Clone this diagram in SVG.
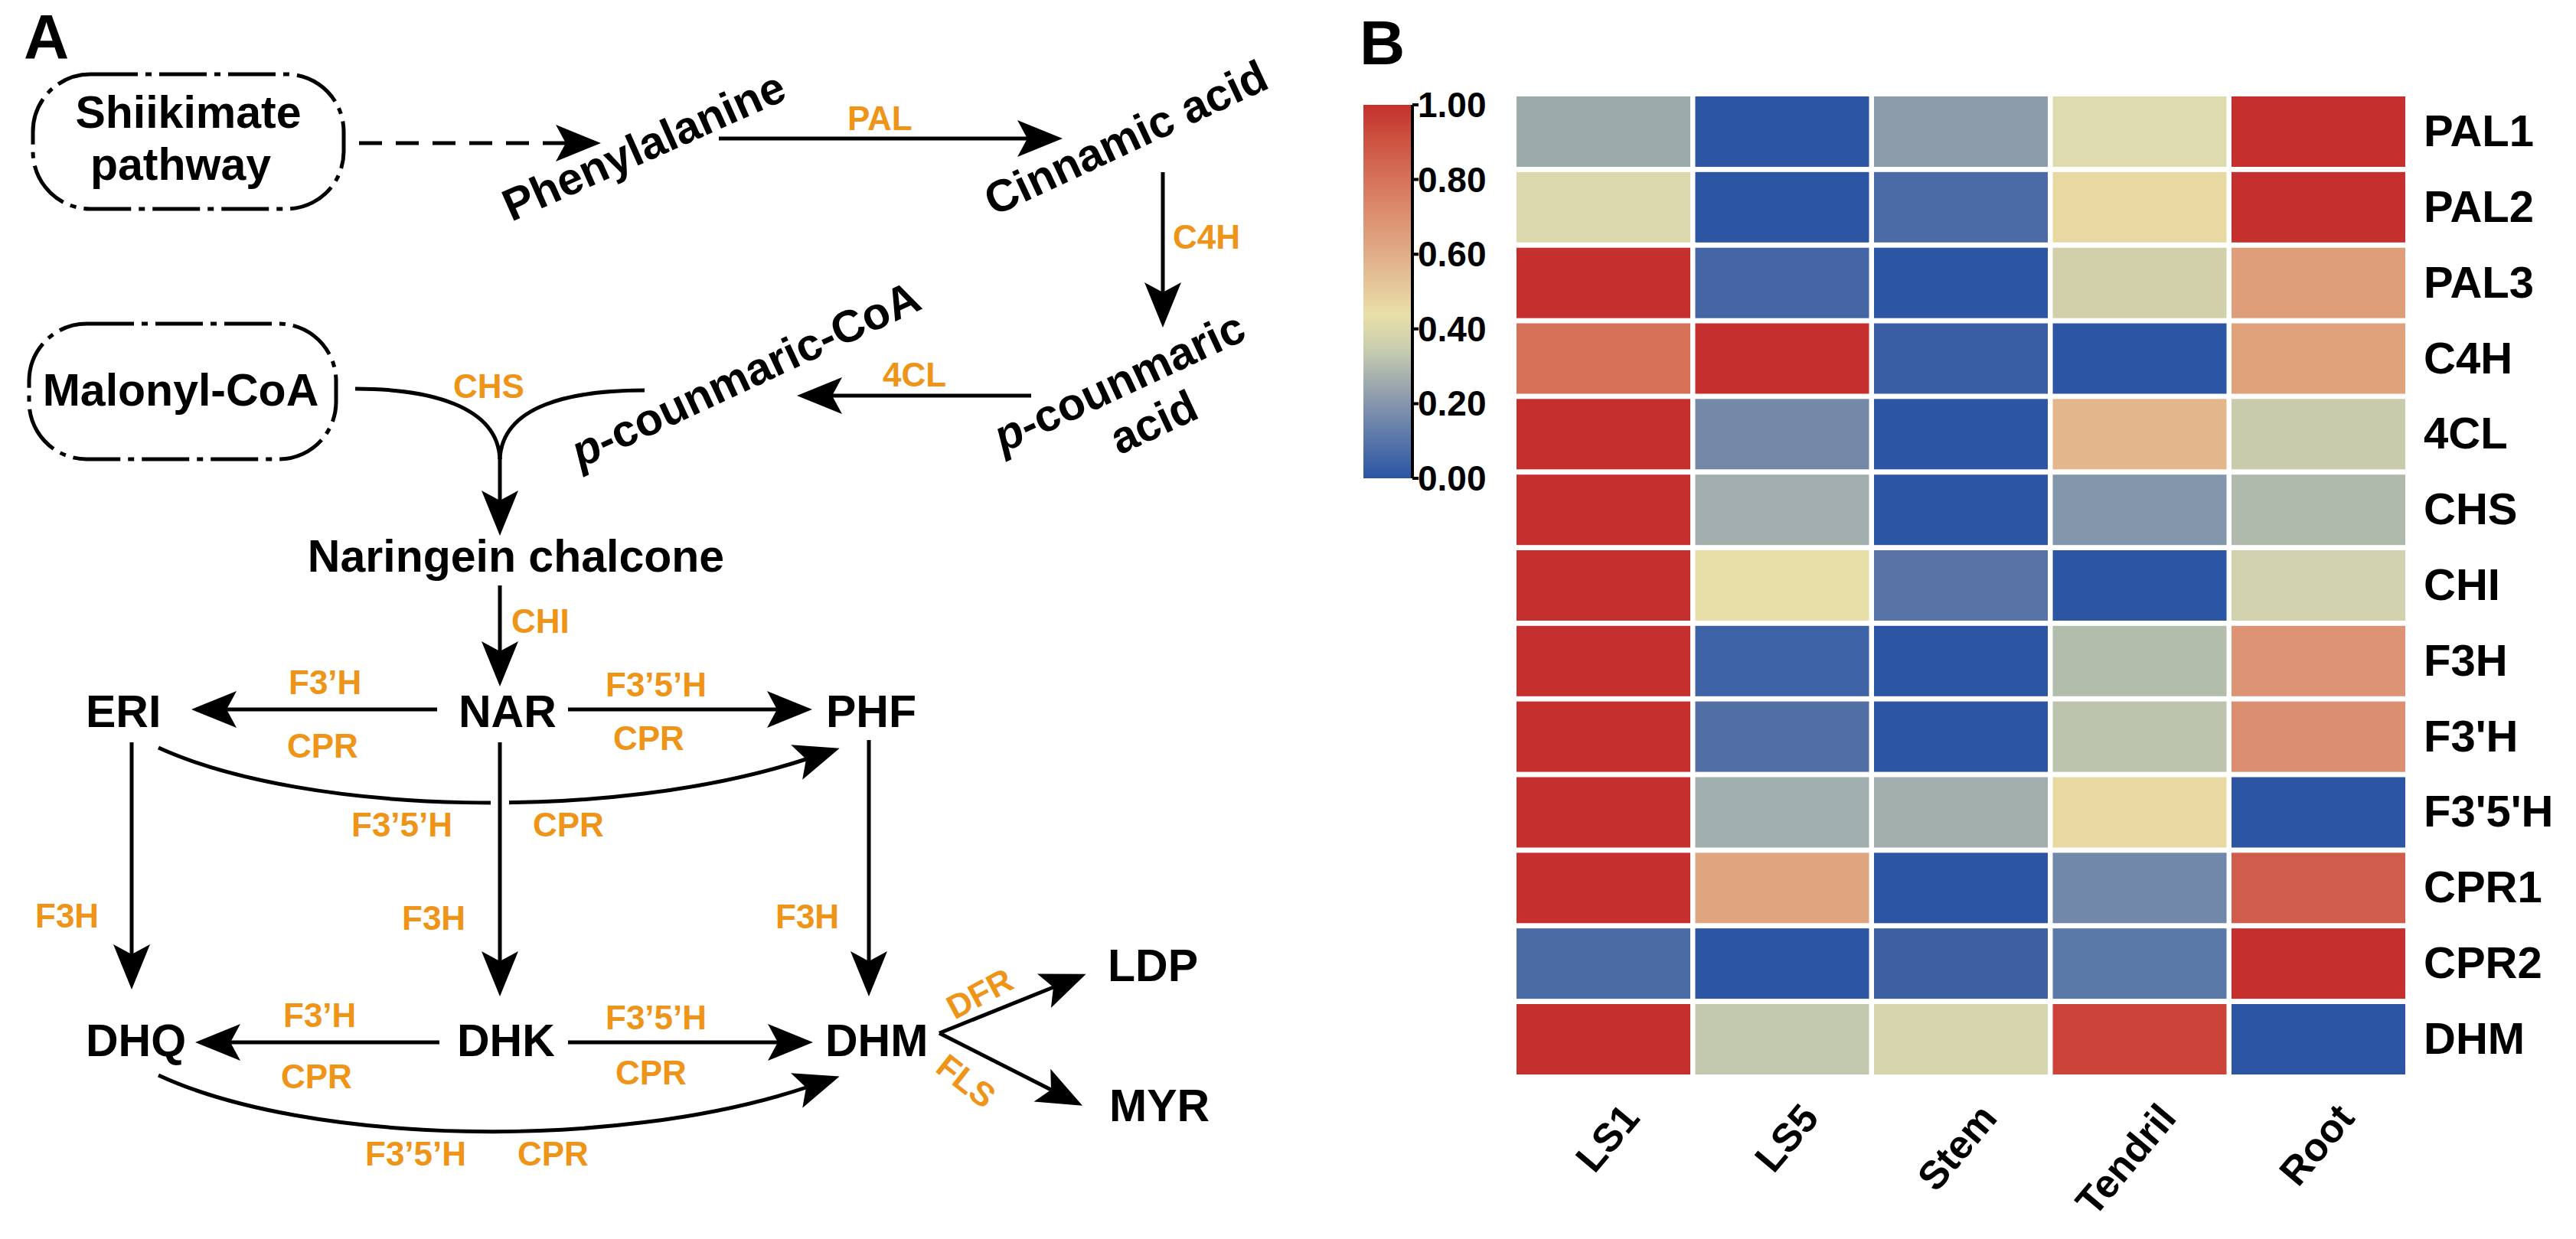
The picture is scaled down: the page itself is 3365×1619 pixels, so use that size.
<svg xmlns="http://www.w3.org/2000/svg" width="3365" height="1619" viewBox="0 0 3365 1619">
<style>
.lb{font-family:"Liberation Sans",Arial,sans-serif;font-weight:bold;font-size:59px;fill:#000}
.en{font-family:"Liberation Sans",Arial,sans-serif;font-weight:bold;font-size:44px;fill:#EE9418}
.pl{font-family:"Liberation Sans",Arial,sans-serif;font-weight:bold;font-size:82px;fill:#000}
.rl{font-family:"Liberation Sans",Arial,sans-serif;font-weight:bold;font-size:58px;fill:#000}
.cb{font-family:"Liberation Sans",Arial,sans-serif;font-weight:bold;font-size:46px;fill:#000}
.cl{font-family:"Liberation Sans",Arial,sans-serif;font-weight:bold;font-size:52px;fill:#000}
.ln{fill:none;stroke:#000;stroke-width:5}
.ar{marker-end:url(#ah)}
.box{fill:none;stroke:#000;stroke-width:5;stroke-dasharray:62 10 8 10}
</style>
<defs>
<marker id="ah" markerUnits="userSpaceOnUse" markerWidth="70" markerHeight="50" viewBox="0 0 70 50" refX="14" refY="25" orient="auto">
<path d="M60,25 L1,1 L14,25 L1,49 Z" fill="#000"/>
</marker>
<linearGradient id="cbar" x1="0" y1="0" x2="0" y2="1">
<stop offset="0" stop-color="#C4302C"/>
<stop offset="0.1" stop-color="#CD5542"/>
<stop offset="0.2" stop-color="#D6735A"/>
<stop offset="0.3" stop-color="#DC9171"/>
<stop offset="0.4" stop-color="#E0AD87"/>
<stop offset="0.5" stop-color="#E6CC9D"/>
<stop offset="0.56" stop-color="#E9E0A8"/>
<stop offset="0.66" stop-color="#C6CBAF"/>
<stop offset="0.8" stop-color="#8595AD"/>
<stop offset="1" stop-color="#2A55A4"/>
</linearGradient>
</defs>
<rect x="0" y="0" width="3365" height="1619" fill="#fff"/>

<text class="pl" x="31" y="76">A</text>
<text class="pl" x="1776" y="84">B</text>

<!-- Panel A nodes -->
<g id="node-shikimate">
<rect class="box" x="43" y="97" width="406" height="176" rx="75" ry="75"/>
<text class="lb" x="246" y="167" text-anchor="middle">Shiikimate</text>
<text class="lb" x="236" y="235" text-anchor="middle">pathway</text>
</g>
<g id="node-malonyl">
<rect class="box" x="38" y="423" width="401" height="177" rx="75" ry="75"/>
<text class="lb" x="236" y="530" text-anchor="middle">Malonyl-CoA</text>
</g>
<g id="node-phenylalanine"><text class="lb" transform="translate(668,290) rotate(-24)">Phenylalanine</text></g>
<g id="node-cinnamic"><text class="lb" transform="translate(1298,283) rotate(-25)">Cinnamic acid</text></g>
<g id="node-pcoumaric-acid">
<text class="lb" transform="translate(1310,592) rotate(-25)"><tspan font-style="italic">p</tspan>-counmaric</text>
<text class="lb" transform="translate(1462,595) rotate(-25)">acid</text>
</g>
<g id="node-pcoumaric-coa"><text class="lb" transform="translate(758,612) rotate(-25)"><tspan font-style="italic">p</tspan>-counmaric-CoA</text></g>
<g id="node-naringenin-chalcone"><text class="lb" x="674" y="747" text-anchor="middle">Naringein chalcone</text></g>
<g id="node-eri"><text class="lb" x="112" y="950">ERI</text></g>
<g id="node-nar"><text class="lb" x="599" y="950">NAR</text></g>
<g id="node-phf"><text class="lb" x="1079" y="950">PHF</text></g>
<g id="node-dhq"><text class="lb" x="112" y="1380">DHQ</text></g>
<g id="node-dhk"><text class="lb" x="597" y="1380">DHK</text></g>
<g id="node-dhm"><text class="lb" x="1078" y="1380">DHM</text></g>
<g id="node-ldp"><text class="lb" x="1447" y="1282">LDP</text></g>
<g id="node-myr"><text class="lb" x="1449" y="1465">MYR</text></g>

<!-- Panel A connectors -->
<g id="connectors">
<line class="ln ar" x1="469" y1="187" x2="739" y2="187" stroke-dasharray="30 18"/>
<line class="ln ar" x1="939" y1="181" x2="1342" y2="181"/>
<line class="ln ar" x1="1519" y1="225" x2="1519" y2="382"/>
<line class="ln ar" x1="1347" y1="517" x2="1087" y2="517"/>
<path class="ln" d="M464,508 C560,508 650,530 653,600"/>
<path class="ln" d="M842,510 C745,510 656,530 653,600"/>
<line class="ln ar" x1="653" y1="598" x2="653" y2="654"/>
<line class="ln ar" x1="653" y1="765" x2="653" y2="851"/>
<line class="ln ar" x1="571" y1="927" x2="296" y2="927"/>
<line class="ln ar" x1="742" y1="927" x2="1015" y2="927"/>
<path class="ln ar" d="M207,977 C400,1065 800,1075 1053,992"/>
<rect x="641" y="1030" width="24" height="40" fill="#fff"/>
<line class="ln ar" x1="172" y1="970" x2="172" y2="1247"/>
<line class="ln ar" x1="653" y1="970" x2="653" y2="1256"/>
<line class="ln ar" x1="1135" y1="967" x2="1135" y2="1256"/>
<line class="ln ar" x1="574" y1="1362" x2="301" y2="1362"/>
<line class="ln ar" x1="742" y1="1362" x2="1016" y2="1362"/>
<path class="ln ar" d="M207,1405 C400,1495 800,1505 1053,1421"/>
<line class="ln ar" x1="1227" y1="1350" x2="1376" y2="1290"/>
<line class="ln ar" x1="1227" y1="1350" x2="1373" y2="1424"/>
</g>

<!-- Enzyme labels -->
<g id="enzyme-labels">
<text class="en" x="1107" y="170">PAL</text>
<text class="en" x="1532" y="325">C4H</text>
<text class="en" x="1153" y="505">4CL</text>
<text class="en" x="592" y="520">CHS</text>
<text class="en" x="668" y="827">CHI</text>
<text class="en" x="377" y="907">F3’H</text>
<text class="en" x="375" y="990">CPR</text>
<text class="en" x="791" y="910">F3’5’H</text>
<text class="en" x="801" y="980">CPR</text>
<text class="en" x="459" y="1093">F3’5’H</text>
<text class="en" x="696" y="1093">CPR</text>
<text class="en" x="46" y="1212">F3H</text>
<text class="en" x="525" y="1215">F3H</text>
<text class="en" x="1013" y="1213">F3H</text>
<text class="en" x="370" y="1342">F3’H</text>
<text class="en" x="367" y="1422">CPR</text>
<text class="en" x="791" y="1345">F3’5’H</text>
<text class="en" x="804" y="1417">CPR</text>
<text class="en" x="477" y="1523">F3’5’H</text>
<text class="en" x="676" y="1523">CPR</text>
<text class="en" transform="translate(1247,1333) rotate(-28)">DFR</text>
<text class="en" transform="translate(1220,1399) rotate(38)">FLS</text>
</g>

<!-- Panel B: colour bar -->
<g id="colorbar">
<rect x="1781" y="137" width="62" height="488" fill="url(#cbar)"/>
<path d="M1845,137 V625 M1845,137 H1853 M1845,234.6 H1853 M1845,332.2 H1853 M1845,429.8 H1853 M1845,527.4 H1853 M1845,625 H1853" fill="none" stroke="#000" stroke-width="4"/>
<text class="cb" x="1852" y="153">1.00</text>
<text class="cb" x="1852" y="251">0.80</text>
<text class="cb" x="1852" y="348">0.60</text>
<text class="cb" x="1852" y="446">0.40</text>
<text class="cb" x="1852" y="543">0.20</text>
<text class="cb" x="1852" y="641">0.00</text>
</g>

<!-- Panel B: heatmap -->
<g id="heatmap">
<g id="row-PAL1">
<rect x="1981" y="126" width="227" height="92" fill="#9BABAA"/><rect x="2214.5" y="126" width="227" height="92" fill="#2C55A4"/><rect x="2448" y="126" width="227" height="92" fill="#8D9CAA"/><rect x="2681.5" y="126" width="227" height="92" fill="#DEDBAE"/><rect x="2915" y="126" width="227" height="92" fill="#C52F2E"/>
<text class="rl" x="3166" y="191">PAL1</text></g>
<g id="row-PAL2">
<rect x="1981" y="224.8" width="227" height="92" fill="#DCD9AE"/><rect x="2214.5" y="224.8" width="227" height="92" fill="#2C55A4"/><rect x="2448" y="224.8" width="227" height="92" fill="#4A6BA6"/><rect x="2681.5" y="224.8" width="227" height="92" fill="#E8D9A3"/><rect x="2915" y="224.8" width="227" height="92" fill="#C52F2E"/>
<text class="rl" x="3166" y="290">PAL2</text></g>
<g id="row-PAL3">
<rect x="1981" y="323.7" width="227" height="92" fill="#C52F2E"/><rect x="2214.5" y="323.7" width="227" height="92" fill="#4565A4"/><rect x="2448" y="323.7" width="227" height="92" fill="#2C55A4"/><rect x="2681.5" y="323.7" width="227" height="92" fill="#D1D0AB"/><rect x="2915" y="323.7" width="227" height="92" fill="#DE9E7A"/>
<text class="rl" x="3166" y="389">PAL3</text></g>
<g id="row-C4H">
<rect x="1981" y="422.5" width="227" height="92" fill="#D47157"/><rect x="2214.5" y="422.5" width="227" height="92" fill="#C52F2E"/><rect x="2448" y="422.5" width="227" height="92" fill="#3A5EA4"/><rect x="2681.5" y="422.5" width="227" height="92" fill="#2C55A4"/><rect x="2915" y="422.5" width="227" height="92" fill="#DFA27B"/>
<text class="rl" x="3166" y="488">C4H</text></g>
<g id="row-4CL">
<rect x="1981" y="521.3" width="227" height="92" fill="#C52F2E"/><rect x="2214.5" y="521.3" width="227" height="92" fill="#7489A7"/><rect x="2448" y="521.3" width="227" height="92" fill="#2C55A4"/><rect x="2681.5" y="521.3" width="227" height="92" fill="#E3B78B"/><rect x="2915" y="521.3" width="227" height="92" fill="#C9CBAD"/>
<text class="rl" x="3166" y="586">4CL</text></g>
<g id="row-CHS">
<rect x="1981" y="620.2" width="227" height="92" fill="#C52F2E"/><rect x="2214.5" y="620.2" width="227" height="92" fill="#A2AEAD"/><rect x="2448" y="620.2" width="227" height="92" fill="#2C55A4"/><rect x="2681.5" y="620.2" width="227" height="92" fill="#8396AB"/><rect x="2915" y="620.2" width="227" height="92" fill="#B0BAAC"/>
<text class="rl" x="3166" y="685">CHS</text></g>
<g id="row-CHI">
<rect x="1981" y="719" width="227" height="92" fill="#C52F2E"/><rect x="2214.5" y="719" width="227" height="92" fill="#E8DEA8"/><rect x="2448" y="719" width="227" height="92" fill="#5873A5"/><rect x="2681.5" y="719" width="227" height="92" fill="#2C55A4"/><rect x="2915" y="719" width="227" height="92" fill="#D1D2AD"/>
<text class="rl" x="3166" y="784">CHI</text></g>
<g id="row-F3H">
<rect x="1981" y="817.8" width="227" height="92" fill="#C52F2E"/><rect x="2214.5" y="817.8" width="227" height="92" fill="#3D62A5"/><rect x="2448" y="817.8" width="227" height="92" fill="#2C55A4"/><rect x="2681.5" y="817.8" width="227" height="92" fill="#B2BDAB"/><rect x="2915" y="817.8" width="227" height="92" fill="#DC9475"/>
<text class="rl" x="3166" y="883">F3H</text></g>
<g id="row-F3pH">
<rect x="1981" y="916.6" width="227" height="92" fill="#C52F2E"/><rect x="2214.5" y="916.6" width="227" height="92" fill="#526FA5"/><rect x="2448" y="916.6" width="227" height="92" fill="#2C55A4"/><rect x="2681.5" y="916.6" width="227" height="92" fill="#BDC4AD"/><rect x="2915" y="916.6" width="227" height="92" fill="#DC8E70"/>
<text class="rl" x="3166" y="982">F3'H</text></g>
<g id="row-F3p5pH">
<rect x="1981" y="1015.5" width="227" height="92" fill="#C52F2E"/><rect x="2214.5" y="1015.5" width="227" height="92" fill="#A0AEAD"/><rect x="2448" y="1015.5" width="227" height="92" fill="#A1AEAB"/><rect x="2681.5" y="1015.5" width="227" height="92" fill="#E8D9A2"/><rect x="2915" y="1015.5" width="227" height="92" fill="#2C55A4"/>
<text class="rl" x="3166" y="1080">F3'5'H</text></g>
<g id="row-CPR1">
<rect x="1981" y="1114.3" width="227" height="92" fill="#C52F2E"/><rect x="2214.5" y="1114.3" width="227" height="92" fill="#DFA57E"/><rect x="2448" y="1114.3" width="227" height="92" fill="#2C55A4"/><rect x="2681.5" y="1114.3" width="227" height="92" fill="#7188AB"/><rect x="2915" y="1114.3" width="227" height="92" fill="#D05C4C"/>
<text class="rl" x="3166" y="1179">CPR1</text></g>
<g id="row-CPR2">
<rect x="1981" y="1213.1" width="227" height="92" fill="#4B6BA4"/><rect x="2214.5" y="1213.1" width="227" height="92" fill="#2C55A4"/><rect x="2448" y="1213.1" width="227" height="92" fill="#3D60A3"/><rect x="2681.5" y="1213.1" width="227" height="92" fill="#5A79A8"/><rect x="2915" y="1213.1" width="227" height="92" fill="#C52F2E"/>
<text class="rl" x="3166" y="1278">CPR2</text></g>
<g id="row-DHM">
<rect x="1981" y="1312" width="227" height="92" fill="#C52F2E"/><rect x="2214.5" y="1312" width="227" height="92" fill="#C2C8AD"/><rect x="2448" y="1312" width="227" height="92" fill="#D6D5AD"/><rect x="2681.5" y="1312" width="227" height="92" fill="#CB4339"/><rect x="2915" y="1312" width="227" height="92" fill="#2C55A4"/>
<text class="rl" x="3166" y="1377">DHM</text></g>
</g>

<g id="column-labels">
<text class="cl" text-anchor="end" transform="translate(2144,1462) rotate(-50)">LS1</text>
<text class="cl" text-anchor="end" transform="translate(2378,1462) rotate(-50)">LS5</text>
<text class="cl" text-anchor="end" transform="translate(2611,1462) rotate(-50)">Stem</text>
<text class="cl" text-anchor="end" transform="translate(2845,1462) rotate(-50)">Tendril</text>
<text class="cl" text-anchor="end" transform="translate(3078,1462) rotate(-50)">Root</text>
</g>
</svg>
